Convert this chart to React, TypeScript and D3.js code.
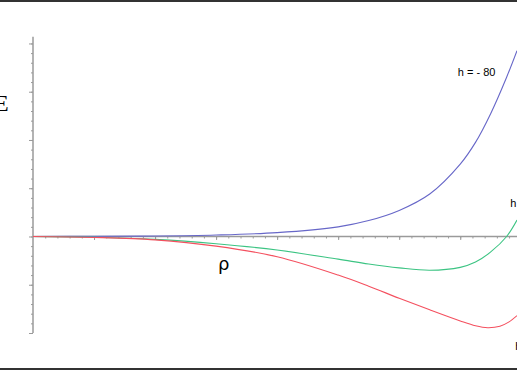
import React, { useRef, useEffect } from "react";
import * as d3 from "d3";

// rho values (x) and energy values for each h curve
const rho = [0, 1, 2, 3, 4, 5, 5.5, 6, 6.5, 7, 7.25, 7.5, 7.76, 7.93];
const energyBlue = [0, 0.005, 0.01, 0.03, 0.08, 0.2, 0.33, 0.54, 0.88, 1.5, 1.95, 2.55, 3.3, 3.85];
const energyGreen = [0, -0.015, -0.06, -0.15, -0.28, -0.47, -0.57, -0.65, -0.7, -0.64, -0.53, -0.32, 0, 0.34];
const rhoRed = [0, 1, 2, 3, 4, 5, 5.5, 6, 6.5, 7, 7.25, 7.45, 7.65, 7.8, 7.93];
const energyRed = [0, -0.02, -0.07, -0.2, -0.42, -0.8, -1.03, -1.28, -1.52, -1.75, -1.85, -1.89, -1.86, -1.77, -1.64];

const labels = [
    { text: "h = - 80", rho: 6.96, e: 3.33 },
    { text: "h = - 40", rho: 7.82, e: 0.62 },
    { text: "h = 0", rho: 7.9, e: -2.36 },
];

export default function App() {
    const ref = useRef(null);

    useEffect(() => {
        const width = 517, height = 371;
        const svg = d3.select(ref.current);
        svg.selectAll("*").remove();
        svg.attr("width", width).attr("height", height);

        const x = d3.scaleLinear().domain([0, 7.93]).range([33, 517]);
        const y = d3.scaleLinear().domain([-2, 4.14]).range([333, 36.7]);

        // frame lines top and bottom
        svg.append("line").attr("x1", 0).attr("x2", width).attr("y1", 1).attr("y2", 1)
            .attr("stroke", "#333").attr("stroke-width", 2);
        svg.append("line").attr("x1", 0).attr("x2", width).attr("y1", 369).attr("y2", 369)
            .attr("stroke", "#333").attr("stroke-width", 2);

        const axisColor = "#9a9a9a";

        // y axis
        const yMinor = svg.append("g").attr("transform", `translate(${x(0)},0)`)
            .call(d3.axisLeft(y).tickValues(d3.range(-2, 4.01, 0.2)).tickSize(2).tickFormat(() => ""));
        const yMajor = svg.append("g").attr("transform", `translate(${x(0)},0)`)
            .call(d3.axisLeft(y).tickValues(d3.range(-2, 4.01, 1)).tickSize(4).tickFormat(() => ""));

        // x axis
        const xMinor = svg.append("g").attr("transform", `translate(0,${y(0)})`)
            .call(d3.axisBottom(x).tickValues(d3.range(0.2, 8.01, 0.2)).tickSize(2).tickFormat(() => ""));
        const xMajor = svg.append("g").attr("transform", `translate(0,${y(0)})`)
            .call(d3.axisBottom(x).tickValues(d3.range(1, 8.01, 1)).tickSize(3.5).tickFormat(() => ""));

        [yMinor, yMajor, xMinor, xMajor].forEach(g => {
            g.selectAll("line").attr("stroke", axisColor);
            g.select(".domain").remove();
        });

        svg.append("line").attr("x1", x(0)).attr("x2", x(0)).attr("y1", y(4.14)).attr("y2", y(-2))
            .attr("stroke", axisColor).attr("stroke-width", 1.5);
        svg.append("line").attr("x1", x(0)).attr("x2", width).attr("y1", y(0)).attr("y2", y(0))
            .attr("stroke", axisColor).attr("stroke-width", 1.5);

        const line = d3.line().curve(d3.curveCatmullRom.alpha(0.5));

        const series = [
            { xs: rho, ys: energyBlue, color: "#6767c8" },
            { xs: rho, ys: energyGreen, color: "#3cc483" },
            { xs: rhoRed, ys: energyRed, color: "#f4505f" },
        ];
        series.forEach(s => {
            svg.append("path")
                .attr("d", line(s.xs.map((v, i) => [x(v), y(s.ys[i])])))
                .attr("fill", "none")
                .attr("stroke", s.color)
                .attr("stroke-width", 1.1);
        });

        labels.forEach(l => {
            svg.append("text").attr("x", x(l.rho)).attr("y", y(l.e))
                .attr("font-family", "Liberation Sans, Arial, sans-serif")
                .attr("font-size", 11)
                .attr("fill", "#000")
                .text(l.text);
        });

        svg.append("text").attr("x", -6).attr("y", 111)
            .attr("font-family", "Liberation Serif, serif").attr("font-size", 24)
            .text("E");
        svg.append("text").attr("x", 218).attr("y", 270)
            .attr("font-family", "DejaVu Sans, sans-serif").attr("font-size", 18)
            .text("ρ");
    }, []);

    return <svg ref={ref} style={{ position: "absolute", left: 0, top: 0 }}></svg>;
}
